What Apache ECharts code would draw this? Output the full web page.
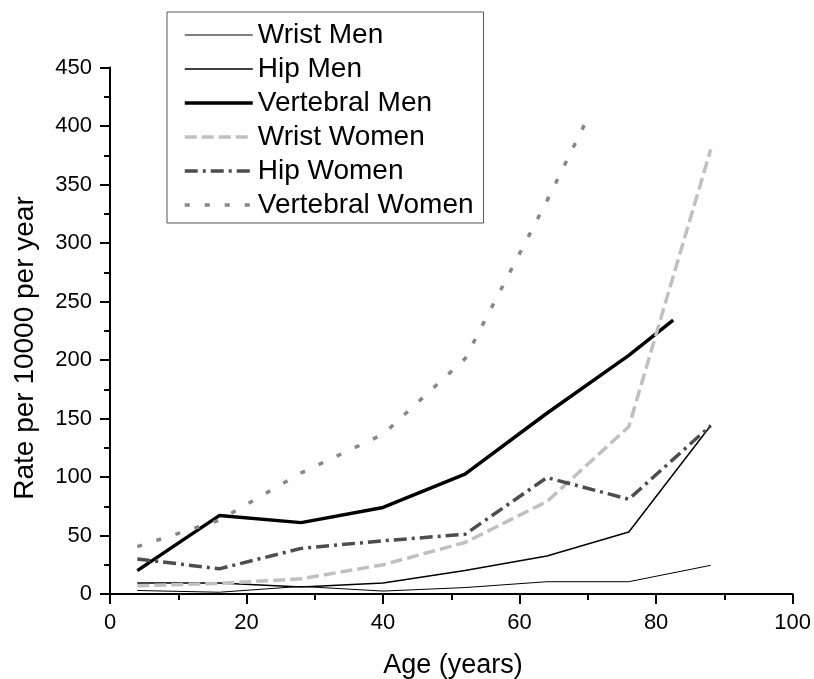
<!DOCTYPE html>
<html>
<head>
<meta charset="utf-8">
<script src="https://cdn.jsdelivr.net/npm/echarts@6/dist/echarts.min.js"></script>
<style>
  html, body { margin: 0; padding: 0; background: #fff; }
  #main { width: 814px; height: 679px; }
</style>
</head>
<body>
<div id="main"></div>
<script>
// age group midpoints (years)
var ages = [4, 16, 28, 40, 52, 64, 76, 88]
var vertMenAges = [4, 16, 28, 40, 52, 64, 76, 82.5]
var vertWomenAges = [4, 16, 28, 40, 52, 64, 70]

// rate per 10000 per year
var wristMen = [3, 1.5, 6.5, 2.5, 5.5, 10.5, 10.5, 24.5]
var hipMen = [9.5, 9.5, 6, 9.5, 20, 32.5, 53, 144]
var vertMen = [20, 67, 61, 74, 102.5, 154.5, 204, 234]
var wristWomen = [7, 9, 13, 25, 44, 79, 143, 380]
var hipWomen = [30, 21.5, 39, 45.5, 51, 99.5, 81, 144]
var vertWomen = [40.5, 63, 103.5, 136.5, 201, 336, 407]

var xTicks = [0, 20, 40, 60, 80, 100]
var yTicks = [0, 50, 100, 150, 200, 250, 300, 350, 400, 450]

var font = '"Liberation Sans", Arial, sans-serif'

// name, colour, width, dash
var styles = [
    ['Wrist Men', '#000', 1, 'solid'],
    ['Hip Men', '#000', 1.5, 'solid'],
    ['Vertebral Men', '#000', 3.5, 'solid'],
    ['Wrist Women', '#c0c0c0', 3.5, [12, 5]],
    ['Hip Women', '#4d4d4d', 3.5, [13, 5, 3, 5]],
    ['Vertebral Women', '#878787', 3.5, [5, 15]]
]
var xs = [ages, ages, vertMenAges, ages, ages, vertWomenAges]
var ys = [wristMen, hipMen, vertMen, wristWomen, hipWomen, vertWomen]

function pairs(xv, yv) {
    return yv.map(function (v, i) { return [xv[i], v] })
}

var chart = echarts.init(document.getElementById('main'))

var option = {
    animation: false,
    backgroundColor: '#fff',
    grid: { left: 110, right: 21, top: 67.5, bottom: 85 },
    legend: {
        orient: 'vertical',
        left: 167,
        top: 12,
        padding: [8, 10, 3, 16],
        itemWidth: 68,
        itemHeight: 14,
        itemGap: 4,
        borderColor: '#555',
        borderWidth: 1,
        itemStyle: { opacity: 0 },
        textStyle: { fontSize: 28, lineHeight: 30, color: '#000', fontFamily: font },
        data: styles.map(function (s) {
            return { name: s[0], lineStyle: { color: s[1], width: s[2], type: s[3] } }
        })
    },
    xAxis: {
        type: 'value',
        min: xTicks[0],
        max: xTicks[xTicks.length - 1],
        interval: 20,
        splitLine: { show: false },
        axisLine: { lineStyle: { color: '#000', width: 2 } },
        axisTick: { inside: false, length: 10, lineStyle: { color: '#000', width: 2 } },
        minorTick: { show: true, splitNumber: 2, length: 6, lineStyle: { color: '#000', width: 2 } },
        axisLabel: { margin: 18, fontSize: 22, color: '#000', fontFamily: font, showMinLabel: true, showMaxLabel: true }
    },
    yAxis: {
        type: 'value',
        min: yTicks[0],
        max: yTicks[yTicks.length - 1],
        interval: 50,
        splitLine: { show: false },
        axisLine: { show: true, lineStyle: { color: '#000', width: 2 } },
        axisTick: { show: true, inside: false, length: 10, lineStyle: { color: '#000', width: 2 } },
        minorTick: { show: true, splitNumber: 2, length: 6, lineStyle: { color: '#000', width: 2 } },
        axisLabel: { margin: 18, fontSize: 22, color: '#000', fontFamily: font, showMinLabel: true, showMaxLabel: true }
    },
    graphic: [
        {
            type: 'text',
            x: 453, y: 666,
            style: { text: 'Age (years)', fontSize: 27, fontFamily: font, fill: '#000', align: 'center', verticalAlign: 'middle' }
        },
        {
            type: 'text',
            x: 25, y: 348,
            rotation: Math.PI / 2,
            style: { text: 'Rate per 10000 per year', fontSize: 28, fontFamily: font, fill: '#000', align: 'center', verticalAlign: 'middle' }
        }
    ],
    series: styles.map(function (s, i) {
        return {
            name: s[0],
            type: 'line',
            data: pairs(xs[i], ys[i]),
            symbol: 'none',
            lineStyle: { color: s[1], width: s[2], type: s[3] },
            itemStyle: { color: s[1] }
        }
    })
}

chart.setOption(option)
</script>
</body>
</html>
